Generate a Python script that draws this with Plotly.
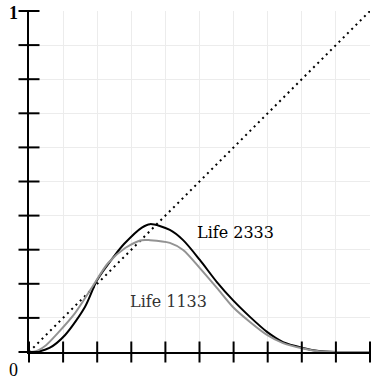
import plotly.graph_objects as go

# Life 2333 (black)
x_2333 = [0, 0.02, 0.06, 0.106, 0.164, 0.2, 0.252, 0.28, 0.331, 0.355, 0.413, 0.452,
          0.501, 0.551, 0.598, 0.648, 0.698, 0.745, 0.804, 0.85, 0.9, 1.0]
y_2333 = [0, 0.0, 0.012, 0.05, 0.132, 0.211, 0.284, 0.318, 0.365, 0.375, 0.358, 0.328,
          0.27, 0.205, 0.152, 0.103, 0.059, 0.029, 0.012, 0.003, 0, 0]
# Life 1133 (gray)
x_1133 = [0, 0.02, 0.05, 0.085, 0.135, 0.185, 0.232, 0.282, 0.331, 0.355, 0.413, 0.452,
          0.501, 0.551, 0.598, 0.648, 0.698, 0.745, 0.804, 0.85, 0.9, 1.0]
y_1133 = [0, 0.002, 0.02, 0.056, 0.114, 0.19, 0.261, 0.305, 0.328, 0.328, 0.32, 0.299,
          0.246, 0.188, 0.132, 0.088, 0.05, 0.026, 0.01, 0.002, 0, 0]
# diagonal reference
x_diag = [0, 1]
y_diag = [0, 1]
# tick positions
tick_vals = [0, 0.1, 0.2, 0.3, 0.4, 0.5, 0.6, 0.7, 0.8, 0.9, 1.0]

fig = go.Figure()
fig.add_trace(go.Scatter(x=x_diag, y=y_diag, mode="lines",
                         line=dict(color="black", width=2, dash="2px,4px"),
                         cliponaxis=False, hoverinfo="skip"))
fig.add_trace(go.Scatter(x=x_2333, y=y_2333, mode="lines",
                         line=dict(color="black", width=2, shape="spline", smoothing=0.8),
                         cliponaxis=False))
fig.add_trace(go.Scatter(x=x_1133, y=y_1133, mode="lines",
                         line=dict(color="#939393", width=2, shape="spline", smoothing=0.8),
                         cliponaxis=False))
# cross tick marks on the axes
fig.add_trace(go.Scatter(x=[0] * len(tick_vals), y=tick_vals, mode="markers",
                         marker=dict(symbol="line-ew", size=15,
                                     line=dict(color="black", width=2)),
                         cliponaxis=False, hoverinfo="skip"))
fig.add_trace(go.Scatter(x=tick_vals, y=[0] * len(tick_vals), mode="markers",
                         marker=dict(symbol="line-ns", size=15,
                                     line=dict(color="black", width=2)),
                         cliponaxis=False, hoverinfo="skip"))

fig.add_annotation(x=0.607, y=0.349, text="Life 2333", showarrow=False,
                   font=dict(family="DejaVu Serif", size=16, color="black"))
fig.add_annotation(x=0.41, y=0.147, text="Life 1133", showarrow=False,
                   font=dict(family="DejaVu Serif", size=16, color="#333333"))
fig.add_annotation(xref="paper", yref="paper", x=-0.044, y=0.994, text="<b>1</b>",
                   xanchor="center", yanchor="middle",
                   showarrow=False, font=dict(family="Liberation Serif", size=18, color="black"))
fig.add_annotation(xref="paper", yref="paper", x=-0.044, y=-0.0528, text="0",
                   xanchor="center", yanchor="middle",
                   showarrow=False, font=dict(family="Liberation Serif", size=18, color="black"))
fig.add_annotation(xref="paper", yref="paper", x=0.9927, y=-0.0528, text="1",
                   xanchor="left", yanchor="middle",
                   showarrow=False, font=dict(family="Liberation Serif", size=18, color="black"))

fig.update_layout(
    width=371, height=382,
    margin=dict(l=29, r=1, t=11, b=30),
    plot_bgcolor="white", paper_bgcolor="white",
    showlegend=False,
    xaxis=dict(range=[0, 1], tickvals=tick_vals, showticklabels=False,
               showgrid=True, gridcolor="#ececec", gridwidth=1,
               showline=True, linecolor="black", linewidth=2, zeroline=False,
               fixedrange=True),
    yaxis=dict(range=[0, 1], tickvals=tick_vals, showticklabels=False,
               showgrid=True, gridcolor="#ececec", gridwidth=1,
               showline=True, linecolor="black", linewidth=2, zeroline=False,
               fixedrange=True),
)
fig.write_html("out.html", config={"displayModeBar": False},
               post_script="document.body.style.margin='0';document.body.style.overflow='hidden';")
